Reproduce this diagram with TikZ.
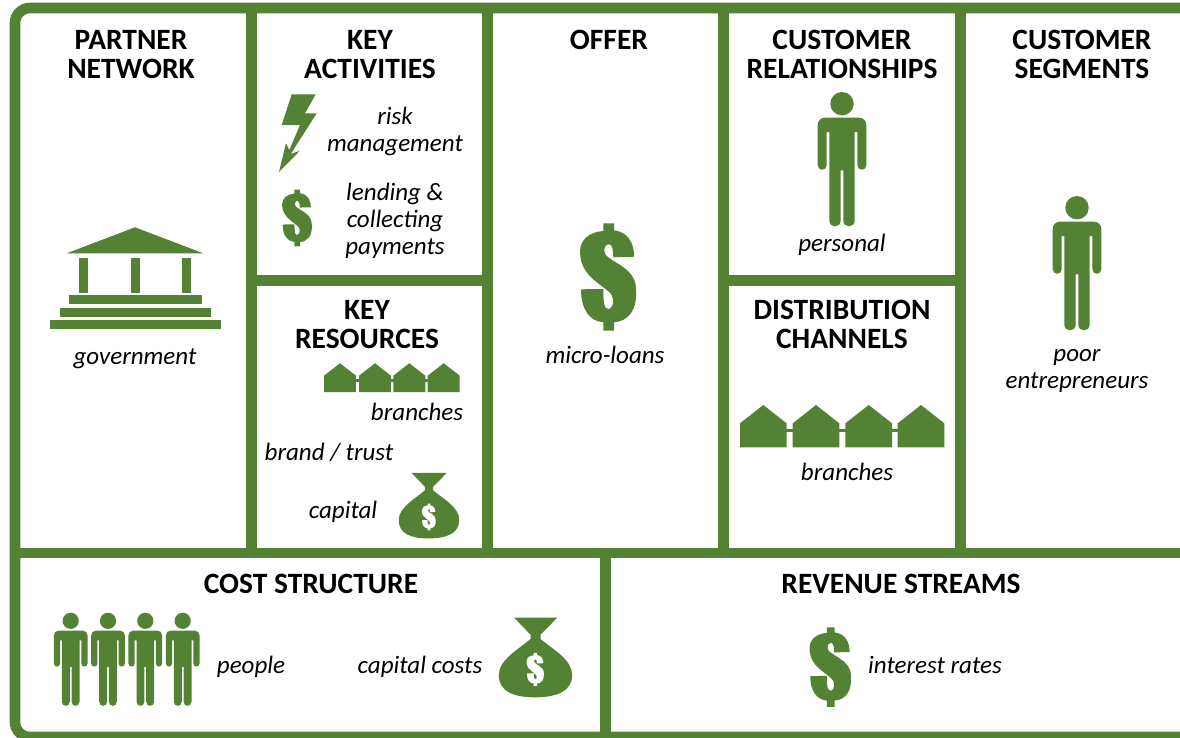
\documentclass[tikz,border=0pt]{standalone}
\usepackage{fontspec}
\setmainfont{Carlito}
\definecolor{leaf}{HTML}{548235}
\tikzset{
  grid/.style={draw=leaf,line width=10.6pt,line cap=butt},
  head/.style={font=\bfseries\fontsize{29.5}{29}\selectfont,align=center,inner sep=0pt,text=black},
  item/.style={font=\itshape\fontsize{25}{27}\selectfont,align=center,inner sep=0pt,text=black},
  pics/dollar/.style={code={
    \fill[#1] (-5.7,-46) -- (-5.7,-53.7) -- (5,-53.7) -- (5,-46.7)
      .. controls (19,-45) and (25,-34) .. (25.3,-20.3) -- (4.3,-19.7)
      .. controls (4.3,-27) and (3.3,-32.7) .. (0,-32.7)
      .. controls (-3.3,-32.7) and (-4.7,-29.7) .. (-4.7,-26)
      .. controls (-4.7,-15.3) and (27.7,-12) .. (27,13)
      .. controls (28.3,33) and (19.3,44.3) .. (5,45.3) -- (5,53.7) -- (-5.7,53.7) -- (-5.7,45.3)
      .. controls (-19,44.3) and (-28,33) .. (-28,12.3) -- (-5.7,12)
      .. controls (-5.7,26) and (-4.7,32) .. (-0.7,32)
      .. controls (2.7,32) and (4.3,27.3) .. (4.3,23)
      .. controls (4.3,9.7) and (-29,5) .. (-29,-25.3)
      .. controls (-29,-37) and (-20,-45) .. cycle;
  }},
  pics/person/.style={code={
    \fill[leaf] (0,11.7) circle [radius=11.7];
    \fill[leaf] (-17,25.7) -- (17,25.7) .. controls (21.5,25.7) and (24.3,29) .. (24.3,33)
      -- (24.3,73.2) .. controls (24.3,79.2) and (15.3,79.2) .. (15.3,73.2) -- (15.3,40) -- (12.7,40)
      -- (12.7,128.5) .. controls (12.7,136.3) and (1.3,136.3) .. (1.3,128.5) -- (1.3,78.3) -- (-1.3,78.3)
      -- (-1.3,128.5) .. controls (-1.3,136.3) and (-12.7,136.3) .. (-12.7,128.5) -- (-12.7,40) -- (-15.3,40)
      -- (-15.3,73.2) .. controls (-15.3,79.2) and (-24.3,79.2) .. (-24.3,73.2)
      -- (-24.3,33) .. controls (-24.3,29) and (-21.5,25.7) .. cycle;
  }},
  pics/house/.style={code={
    \fill[leaf] (0,-42.3) -- (23.3,-24) -- (23.3,0) -- (-23.3,0) -- (-23.3,-24) -- cycle;
  }},
  pics/moneybag/.style={code={
    \fill[leaf] (-21.3,-40.3) -- (21.7,-40.3) -- (5,-23.3) -- (5,-19)
      .. controls (17.7,-8.3) and (36.7,1.7) .. (36.7,17)
      .. controls (36.7,33.3) and (21,39.3) .. (-0.7,39.3)
      .. controls (-22.3,39.3) and (-36.7,33.3) .. (-36.7,17)
      .. controls (-36.7,1.7) and (-17.3,-8.3) .. (-5,-19) -- (-5,-23.3) -- cycle;
  }}
}
\begin{document}
\begin{tikzpicture}[x=1pt,y=-1pt,line join=miter]
\useasboundingbox (0,0) rectangle (1180,737);
\clip (0,0) rectangle (1180,737);
\fill[white] (0,0) rectangle (1180,737);
\draw[grid,rounded corners=15pt] (1200,8) -- (15,8) -- (15,737) -- (1200,737);
\draw[grid] (15,553) -- (1180,553);
\draw[grid] (251.5,8) -- (251.5,553);
\draw[grid] (487.5,8) -- (487.5,553);
\draw[grid] (723.5,8) -- (723.5,553);
\draw[grid] (960.5,8) -- (960.5,553);
\draw[grid] (251.5,280.5) -- (487.5,280.5);
\draw[grid] (723.5,280.5) -- (960.5,280.5);
\draw[grid] (605.5,553) -- (605.5,737);

\node[head] (partner) at (131,54.5) {PARTNER\\NETWORK};
\node[head] (activities) at (370,54.5) {KEY\\ACTIVITIES};
\node[head] (offer) at (609,40) {OFFER};
\node[head] (relations) at (842,54.5) {CUSTOMER\\RELATIONSHIPS};
\node[head] (segments) at (1082,54.5) {CUSTOMER\\SEGMENTS};
\node[head] (resources) at (367,324.5) {KEY\\RESOURCES};
\node[head] (channels) at (842,324.5) {DISTRIBUTION\\CHANNELS};
\node[head] (cost) at (311,584) {COST STRUCTURE};
\node[head] (revenue) at (901,584) {REVENUE STREAMS};

\node[item] (government) at (135,359) {government};
\node[item] (risk) at (395,131) {risk\\management};
\node[item] (lending) at (395,221) {lending \&\\collecting\\payments};
\node[item] (branchesa) at (417,412) {branches};
\node[item] (brand) at (329,452) {brand / trust};
\node[item] (capital) at (343,512) {capital};
\node[item] (loans) at (605,355) {micro-loans};
\node[item] (personal) at (842,244.5) {personal};
\node[item] (branchesb) at (847,472) {branches};
\node[item] (poor) at (1077,371) {poor\\entrepreneurs};
\node[item] (people) at (251,667) {people};
\node[item] (costs) at (420,667) {capital costs};
\node[item] (rates) at (935,665) {interest rates};

\fill[leaf] (66.7,253.3) -- (135,227.3) -- (203.3,253.3) -- cycle;
\foreach \cx in {79,131,182}
  \fill[leaf] (\cx,258) rectangle (\cx+9,293);
\fill[leaf] (69,295) rectangle (202,304);
\fill[leaf] (60,308) rectangle (211,317);
\fill[leaf] (50,320) rectangle (221,329);

\fill[leaf] (291.7,94.3) -- (315.7,94.3) -- (305,113.3) -- (316.7,113.3) -- (290.7,154) -- (300,150.7)
  -- (279,172) -- (286,143.3) -- (289.3,150) -- (300,125) -- (281.7,125) -- cycle;

\pic at (609,277) {dollar=leaf};
\pic[scale=.74] at (831,667) {dollar=leaf};
\pic[scale=.53] at (297.5,218) {dollar=leaf};

\pic at (842,92) {person};
\pic at (1077,196) {person};
\foreach \px in {70.7,108,145.3,182.7}
  \pic[scale=.693] at (\px,612.7) {person};

\fill[leaf] (786,428.5) rectangle (898,432);
\foreach \hx in {763.3,816,868.7,921}
  \pic at (\hx,447.3) {house};
\fill[leaf] (340,379) rectangle (444,382);
\foreach \hx in {340,375,409.3,443.7}
  \pic[xscale=.685,yscale=.68] at (\hx,392) {house};

\pic[scale=.825] at (429,506) {moneybag};
\pic[scale=.25] at (429,517) {dollar=white};
\pic at (535.5,658) {moneybag};
\pic[scale=.31] at (535.5,669.5) {dollar=white};
\end{tikzpicture}
\end{document}
